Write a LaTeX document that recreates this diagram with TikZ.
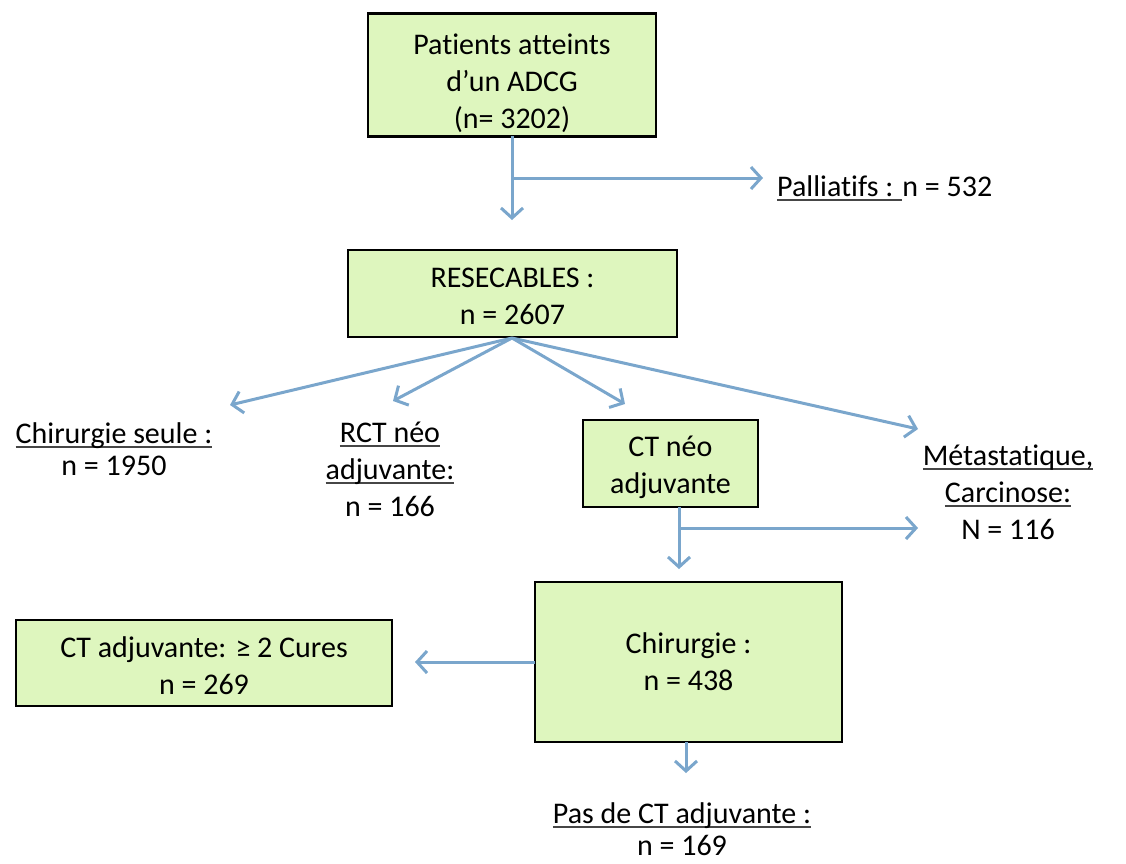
\documentclass[tikz,border=0pt]{standalone}
\usepackage{fontspec}
\setmainfont[Ligatures=NoCommon]{Carlito}
\newcommand{\ulx}[1]{\leavevmode\setbox0\hbox{#1}\rlap{\color[RGB]{70,70,70}\rule[-4.5pt]{\wd0}{2pt}}\box0}
\usetikzlibrary{arrows.meta}
\definecolor{boxfill}{RGB}{222,246,190}
\definecolor{arrowc}{RGB}{122,166,204}
\begin{document}
\begin{tikzpicture}[x=1pt,y=-1pt,
  box/.style={draw=black, line width=2.8pt, fill=boxfill, align=center, inner sep=0pt,
    font=\fontsize{30}{37}\selectfont},
  lbl/.style={align=center, inner sep=0pt, font=\fontsize{30}{37}\selectfont},
  tight/.style={font=\fontsize{30}{32}\selectfont},
  conn/.style={draw=arrowc, line width=3pt, -{Straight Barb[length=10pt,width=22pt,line width=3pt]}}]
\useasboundingbox (0,0) rectangle (1126,863);
% boxes
\node[box, minimum width=288pt, minimum height=123pt] (top) at (512,75) {\rule{0pt}{37pt}Patients atteints\\d’un ADCG\\(n= 3202)};
\node[box, minimum width=329pt, minimum height=87pt] (res) at (512.5,293.5) {\rule{0pt}{26pt}RESECABLES :\\n = 2607};
\node[box, minimum width=175pt, minimum height=87pt] (ctneo) at (670.5,463.5) {\rule{0pt}{28pt}CT néo\\adjuvante};
\node[box, minimum width=307pt, minimum height=160pt] (chir) at (688.5,662) {Chirurgie :\\n = 438};
\node[box, minimum width=376pt, minimum height=86pt] (ctadj) at (204,663) {\rule{0pt}{26pt}CT adjuvante: ≥ 2 Cures\\n = 269};
% labels
\node[lbl, anchor=west] (pal) at (777,188) {\ulx{Palliatifs : }n = 532};
\node[lbl, tight] (chs) at (114,449) {\ulx{Chirurgie seule :}\\n = 1950};
\node[lbl] (rct) at (390,469) {\ulx{RCT néo}\\\ulx{adjuvante:}\\n = 166};
\node[lbl] (met) at (1008,492) {\ulx{Métastatique,}\\\ulx{Carcinose:}\\N = 116};
\node[lbl, tight] (pas) at (682,829) {\ulx{Pas de CT adjuvante :}\\n = 169};
% coordinates
\coordinate (topS) at (512,136);
\coordinate (j1) at (512,178);
\coordinate (t1) at (512,220);
\coordinate (t2) at (763,178);
\coordinate (resS) at (512,338);
\coordinate (a1) at (230,405);
\coordinate (a2) at (393,401);
\coordinate (a3) at (625,404);
\coordinate (a4) at (918,429);
\coordinate (ctS) at (679,507);
\coordinate (j2) at (679,528);
\coordinate (b1) at (679,569);
\coordinate (b2) at (918,528);
\coordinate (chW) at (535,662);
\coordinate (c1) at (415,662);
\coordinate (chS) at (686,742);
\coordinate (c2) at (686,773);
% connectors
\draw[conn] (topS) -- (t1);
\draw[conn] (j1) -- (t2);
\draw[conn] (resS) -- (a1);
\draw[conn] (resS) -- (a2);
\draw[conn] (resS) -- (a3);
\draw[conn] (resS) -- (a4);
\draw[conn] (ctS) -- (b1);
\draw[conn] (j2) -- (b2);
\draw[conn] (chW) -- (c1);
\draw[conn] (chS) -- (c2);
\end{tikzpicture}
\end{document}
